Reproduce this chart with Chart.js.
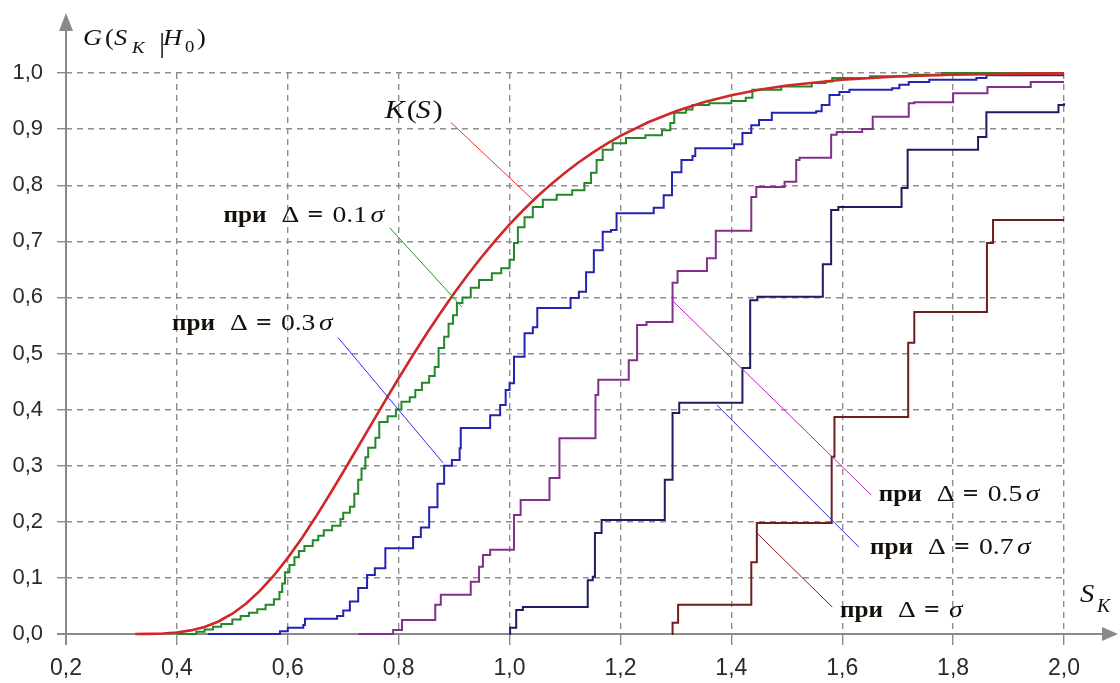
<!DOCTYPE html>
<html lang="ru">
<head>
<meta charset="UTF-8">
<title>G(S_K|H_0)</title>
<script src="https://cdn.jsdelivr.net/npm/chart.js"></script>
<style>
  html, body { margin: 0; padding: 0; background: #fff; }
</style>
</head>
<body>
<canvas id="cdfChart" width="1120" height="683"></canvas>

<script>
  // tick labels
  const xTickLabels = ['0,2', '0,4', '0,6', '0,8', '1,0', '1,2', '1,4', '1,6', '1,8', '2,0'];
  const yTickLabels = ['0,0', '0,1', '0,2', '0,3', '0,4', '0,5', '0,6', '0,7', '0,8', '0,9', '1,0'];

  // K(S)
  const sK = [0.325, 0.35, 0.375, 0.40, 0.425, 0.45, 0.475, 0.50, 0.525, 0.55, 0.575, 0.60, 0.625, 0.65, 0.675,
              0.70, 0.725, 0.75, 0.775, 0.80, 0.825, 0.85, 0.875, 0.90, 0.925, 0.95, 0.975, 1.00, 1.025, 1.05,
              1.075, 1.10, 1.125, 1.15, 1.175, 1.20, 1.25, 1.30, 1.35, 1.40, 1.45, 1.50, 1.60, 1.70, 1.80,
              1.90, 2.00];
  const gK = [0.0001, 0.0003, 0.0010, 0.0028, 0.0064, 0.0126, 0.0223, 0.0361, 0.0543, 0.0772, 0.1044, 0.1357, 0.1704, 0.2080, 0.2477,
              0.2888, 0.3307, 0.3728, 0.4147, 0.4559, 0.4960, 0.5347, 0.5718, 0.6073, 0.6409, 0.6725, 0.7022, 0.7300, 0.7558, 0.7798,
              0.8019, 0.8223, 0.8410, 0.8581, 0.8736, 0.8878, 0.9121, 0.9319, 0.9478, 0.9603, 0.9702, 0.9778, 0.9880, 0.9938, 0.9969,
              0.9985, 0.9993];

  // при Δ = 0.1σ  (jump position, value after the jump)
  const s01 = [0.40, 0.435, 0.45, 0.465, 0.48, 0.50, 0.515, 0.53, 0.545, 0.56, 0.575, 0.585, 0.59, 0.595, 0.603,
               0.612, 0.62, 0.63, 0.645, 0.655, 0.665, 0.68, 0.695, 0.70, 0.712, 0.72, 0.727, 0.733, 0.74, 0.745,
               0.758, 0.765, 0.78, 0.795, 0.805, 0.82, 0.83, 0.842, 0.855, 0.865, 0.872, 0.882, 0.89, 0.898, 0.905,
               0.915, 0.93, 0.945, 0.968, 0.985, 1.0, 1.008, 1.015, 1.027, 1.042, 1.06, 1.085, 1.113, 1.135, 1.147,
               1.157, 1.168, 1.186, 1.21, 1.245, 1.275, 1.29, 1.297, 1.318, 1.33, 1.36, 1.40, 1.426, 1.438, 1.49,
               1.545, 1.57, 1.582, 1.65, 1.72, 1.78, 2.0];
  const g01 = [0, 0.004, 0.008, 0.013, 0.018, 0.026, 0.032, 0.038, 0.044, 0.052, 0.062, 0.075, 0.09, 0.11, 0.123,
               0.137, 0.148, 0.157, 0.167, 0.175, 0.185, 0.193, 0.205, 0.216, 0.227, 0.25, 0.275, 0.295, 0.315, 0.332,
               0.35, 0.378, 0.388, 0.40, 0.414, 0.422, 0.435, 0.448, 0.46, 0.476, 0.51, 0.53, 0.553, 0.568, 0.59,
               0.60, 0.617, 0.631, 0.643, 0.652, 0.667, 0.697, 0.725, 0.743, 0.761, 0.774, 0.783, 0.791, 0.804, 0.822,
               0.845, 0.863, 0.875, 0.884, 0.889, 0.898, 0.911, 0.929, 0.935, 0.943, 0.946, 0.950, 0.956, 0.970, 0.976,
               0.982, 0.985, 0.991, 0.994, 0.997, 1.0, 1.0];

  // при Δ = 0.3σ
  const s03 = [0.456, 0.586, 0.600, 0.628, 0.631, 0.689, 0.700, 0.712, 0.727, 0.743, 0.757, 0.776, 0.826, 0.840, 0.855,
               0.870, 0.882, 0.896, 0.910, 0.912, 0.965, 0.983, 0.993, 1.000, 1.008, 1.027, 1.042, 1.050, 1.110, 1.125,
               1.138, 1.152, 1.168, 1.183, 1.193, 1.260, 1.278, 1.293, 1.310, 1.330, 1.335, 1.405, 1.420, 1.436, 1.450,
               1.473, 1.553, 1.563, 1.577, 1.595, 1.613, 1.690, 1.703, 1.720, 1.757, 1.842, 1.860, 2.000];
  const g03 = [0, 0.005, 0.011, 0.016, 0.027, 0.032, 0.042, 0.058, 0.082, 0.105, 0.117, 0.153, 0.173, 0.190, 0.226,
               0.268, 0.300, 0.310, 0.331, 0.367, 0.390, 0.408, 0.435, 0.447, 0.494, 0.536, 0.547, 0.581, 0.599, 0.610,
               0.645, 0.684, 0.717, 0.720, 0.750, 0.760, 0.782, 0.823, 0.845, 0.852, 0.866, 0.873, 0.893, 0.907, 0.916,
               0.929, 0.932, 0.943, 0.961, 0.966, 0.970, 0.973, 0.979, 0.984, 0.988, 0.991, 0.996, 0.996];

  // при Δ = 0.5σ
  const s05 = [0.727, 0.790, 0.806, 0.866, 0.876, 0.930, 0.945, 0.952, 0.965, 1.008, 1.020, 1.072, 1.090, 1.155, 1.160,
               1.215, 1.230, 1.247, 1.294, 1.303, 1.356, 1.372, 1.436, 1.445, 1.496, 1.517, 1.523, 1.580, 1.590, 1.636,
               1.655, 1.720, 1.730, 1.800, 1.862, 1.940, 2.000];
  const g05 = [0, 0.007, 0.025, 0.052, 0.070, 0.093, 0.120, 0.141, 0.150, 0.212, 0.239, 0.278, 0.349, 0.426, 0.453,
               0.488, 0.551, 0.556, 0.626, 0.647, 0.670, 0.719, 0.779, 0.797, 0.806, 0.845, 0.849, 0.890, 0.895, 0.900,
               0.922, 0.946, 0.948, 0.964, 0.975, 0.984, 0.984];

  // при Δ = 0.7σ
  const s07 = [1.000, 1.001, 1.012, 1.024, 1.141, 1.150, 1.154, 1.166, 1.280, 1.294, 1.306, 1.420, 1.434, 1.447, 1.565,
               1.580, 1.593, 1.707, 1.718, 1.845, 1.860, 1.990, 2.000];
  const g07 = [0, 0.011, 0.043, 0.048, 0.096, 0.102, 0.180, 0.203, 0.275, 0.394, 0.412, 0.474, 0.595, 0.601, 0.659,
               0.756, 0.761, 0.795, 0.863, 0.886, 0.930, 0.943, 0.946];

  // при Δ = σ
  const s10 = [1.293, 1.294, 1.304, 1.436, 1.446, 1.581, 1.586, 1.719, 1.730, 1.861, 1.872, 2.000];
  const g10 = [0, 0.020, 0.052, 0.128, 0.198, 0.316, 0.387, 0.519, 0.574, 0.697, 0.738, 0.738];

  const pts = (xs, ys) => xs.map((x, i) => ({ x: x, y: ys[i] }));

  const serif = '"Liberation Serif", "Times New Roman", serif';
  const f = (size, style) => (style || '') + ' ' + size + 'px ' + serif;

  // label parts: text, font, x offset (px), y offset (px), horizontal stretch
  function priParts(num) {
    const p = [
      { t: 'при', f: f(24, 'bold'), dx: 0, sx: 1.05 },
      { t: 'Δ', f: f(24), dx: 58 },
      { t: '=', f: f(24, 'bold'), dx: 84 }
    ];
    if (num) {
      p.push({ t: num, f: f(24), dx: 109 });
      p.push({ t: 'σ', f: f(24, 'italic'), dx: 147 });
    } else {
      p.push({ t: 'σ', f: f(24, 'italic'), dx: 109 });
    }
    return p;
  }

  // annotations in data units: text anchor and leader line
  const notes = [
    { at: [0.775, 0.920], from: [0.894, 0.912], to: [1.041, 0.775], color: '#ff2a2a',
      parts: [{ t: 'K', f: f(26, 'italic'), dx: 0 }, { t: '(', f: f(26), dx: 22 },
              { t: 'S', f: f(26, 'italic'), dx: 31 }, { t: ')', f: f(26), dx: 48 }] },
    { at: [0.484, 0.734], from: [0.784, 0.724], to: [0.914, 0.583], color: '#1f9a1f', parts: priParts('0.1') },
    { at: [0.391, 0.542], from: [0.691, 0.528], to: [0.880, 0.305], color: '#2a2aff', parts: priParts('0.3') },
    { at: [1.666, 0.237], from: [1.293, 0.595], to: [1.652, 0.248], color: '#c020c0', parts: priParts('0.5') },
    { at: [1.650, 0.143], from: [1.374, 0.408], to: [1.630, 0.155], color: '#2a2ad0', parts: priParts('0.7') },
    { at: [1.596, 0.030], from: [1.446, 0.180], to: [1.582, 0.048], color: '#8b1a1a', parts: priParts(null) }
  ];

  function drawParts(ctx, x, y, parts, sx) {
    parts.forEach(p => {
      ctx.save();
      ctx.translate(x + p.dx, y + (p.dy || 0));
      ctx.scale(p.sx || sx, 1);
      ctx.font = p.f;
      ctx.fillText(p.t, 0, 0);
      ctx.restore();
    });
  }

  const axesPlugin = {
    id: 'axesArrows',
    beforeDatasetsDraw(chart) {
      const ctx = chart.ctx, a = chart.chartArea;
      ctx.save();
      ctx.strokeStyle = '#8a8a8a';
      ctx.fillStyle = '#8a8a8a';
      ctx.lineWidth = 2;
      ctx.beginPath();
      ctx.moveTo(a.left, a.bottom + 11);
      ctx.lineTo(a.left, a.top - 42);
      ctx.moveTo(a.left - 9, a.bottom);
      ctx.lineTo(a.right + 40, a.bottom);
      ctx.stroke();
      // arrow heads
      ctx.beginPath();
      ctx.moveTo(a.left, a.top - 60);
      ctx.lineTo(a.left - 7, a.top - 42);
      ctx.lineTo(a.left + 7, a.top - 42);
      ctx.closePath();
      ctx.fill();
      ctx.beginPath();
      ctx.moveTo(a.right + 54, a.bottom);
      ctx.lineTo(a.right + 38, a.bottom - 7);
      ctx.lineTo(a.right + 38, a.bottom + 7);
      ctx.closePath();
      ctx.fill();
      ctx.restore();
    },
    afterDraw(chart) {
      const ctx = chart.ctx, a = chart.chartArea;
      const xs = chart.scales.x, ys = chart.scales.y;
      ctx.save();
      // leader lines
      notes.forEach(n => {
        ctx.strokeStyle = n.color;
        ctx.lineWidth = 1;
        ctx.beginPath();
        ctx.moveTo(xs.getPixelForValue(n.from[0]), ys.getPixelForValue(n.from[1]));
        ctx.lineTo(xs.getPixelForValue(n.to[0]), ys.getPixelForValue(n.to[1]));
        ctx.stroke();
      });
      ctx.fillStyle = '#15110a';
      ctx.textBaseline = 'alphabetic';
      ctx.textAlign = 'left';
      notes.forEach(n => {
        drawParts(ctx, xs.getPixelForValue(n.at[0]), ys.getPixelForValue(n.at[1]), n.parts, 1.15);
      });
      // axis titles
      drawParts(ctx, a.left + 17, a.top - 28, [
        { t: 'G', f: f(24, 'italic'), dx: 0 },
        { t: '(', f: f(24), dx: 22 },
        { t: 'S', f: f(24, 'italic'), dx: 31 },
        { t: 'K', f: f(17, 'italic'), dx: 49, dy: 8 },
        { t: '|', f: f(28), dx: 76, dy: 7 },
        { t: 'H', f: f(24, 'italic'), dx: 80 },
        { t: '0', f: f(17), dx: 102, dy: 7 },
        { t: ')', f: f(24), dx: 114 }
      ], 1.1);
      drawParts(ctx, a.right + 16, a.bottom - 32, [
        { t: 'S', f: f(26, 'italic'), dx: 0 },
        { t: 'K', f: f(18, 'italic'), dx: 17, dy: 10 }
      ], 1.1);
      ctx.restore();
    }
  };

  // 'before': horizontal run at the old value, then the vertical jump at the new x
  const stepLine = (label, data, color, width) => ({
    label: label, data: data, borderColor: color, borderWidth: width,
    stepped: 'before', pointRadius: 0, fill: false, clip: 6
  });

  const ctx = document.getElementById('cdfChart').getContext('2d');
  const cdfChart = new Chart(ctx, {
    type: 'line',
    data: {
      datasets: [
        { label: 'K(S)', data: pts(sK, gK), borderColor: '#d02727', borderWidth: 2.6,
          pointRadius: 0, tension: 0, fill: false, clip: 6 },
        stepLine('Δ = 0.1σ', pts(s01, g01), '#23882a', 2),
        stepLine('Δ = 0.3σ', pts(s03, g03), '#2424b0', 2),
        stepLine('Δ = 0.5σ', pts(s05, g05), '#83308a', 2),
        stepLine('Δ = 0.7σ', pts(s07, g07), '#1d1d60', 2),
        stepLine('Δ = σ', pts(s10, g10), '#6e1e1e', 2)
      ]
    },
    options: {
      responsive: false,
      animation: false,
      events: [],
      layout: { padding: { left: 0, top: 73, right: 56, bottom: 0 } },
      plugins: { legend: { display: false }, tooltip: { enabled: false } },
      scales: {
        x: {
          type: 'linear', min: 0.2, max: 2.0,
          afterFit: s => { s.height = 49; },
          grid: { color: '#8e8e8e', lineWidth: 1.4, tickLength: 11, tickColor: '#8a8a8a' },
          border: { display: false, dash: [6, 5] },
          ticks: {
            stepSize: 0.2, autoSkip: false, maxRotation: 0, padding: 10,
            color: '#2a2a2a', font: { family: '"Liberation Sans", Arial, sans-serif', size: 23 },
            callback: (v, i) => xTickLabels[i]
          }
        },
        y: {
          type: 'linear', min: 0, max: 1,
          afterFit: s => { s.width = 66; },
          grid: { color: '#8e8e8e', lineWidth: 1.4, tickLength: 9, tickColor: '#8a8a8a' },
          border: { display: false, dash: [6, 5] },
          ticks: {
            stepSize: 0.1, autoSkip: false, padding: 14,
            color: '#2a2a2a', font: { family: '"Liberation Sans", Arial, sans-serif', size: 22 },
            callback: (v, i) => yTickLabels[i]
          }
        }
      }
    },
    plugins: [axesPlugin]
  });
</script>
</body>
</html>
